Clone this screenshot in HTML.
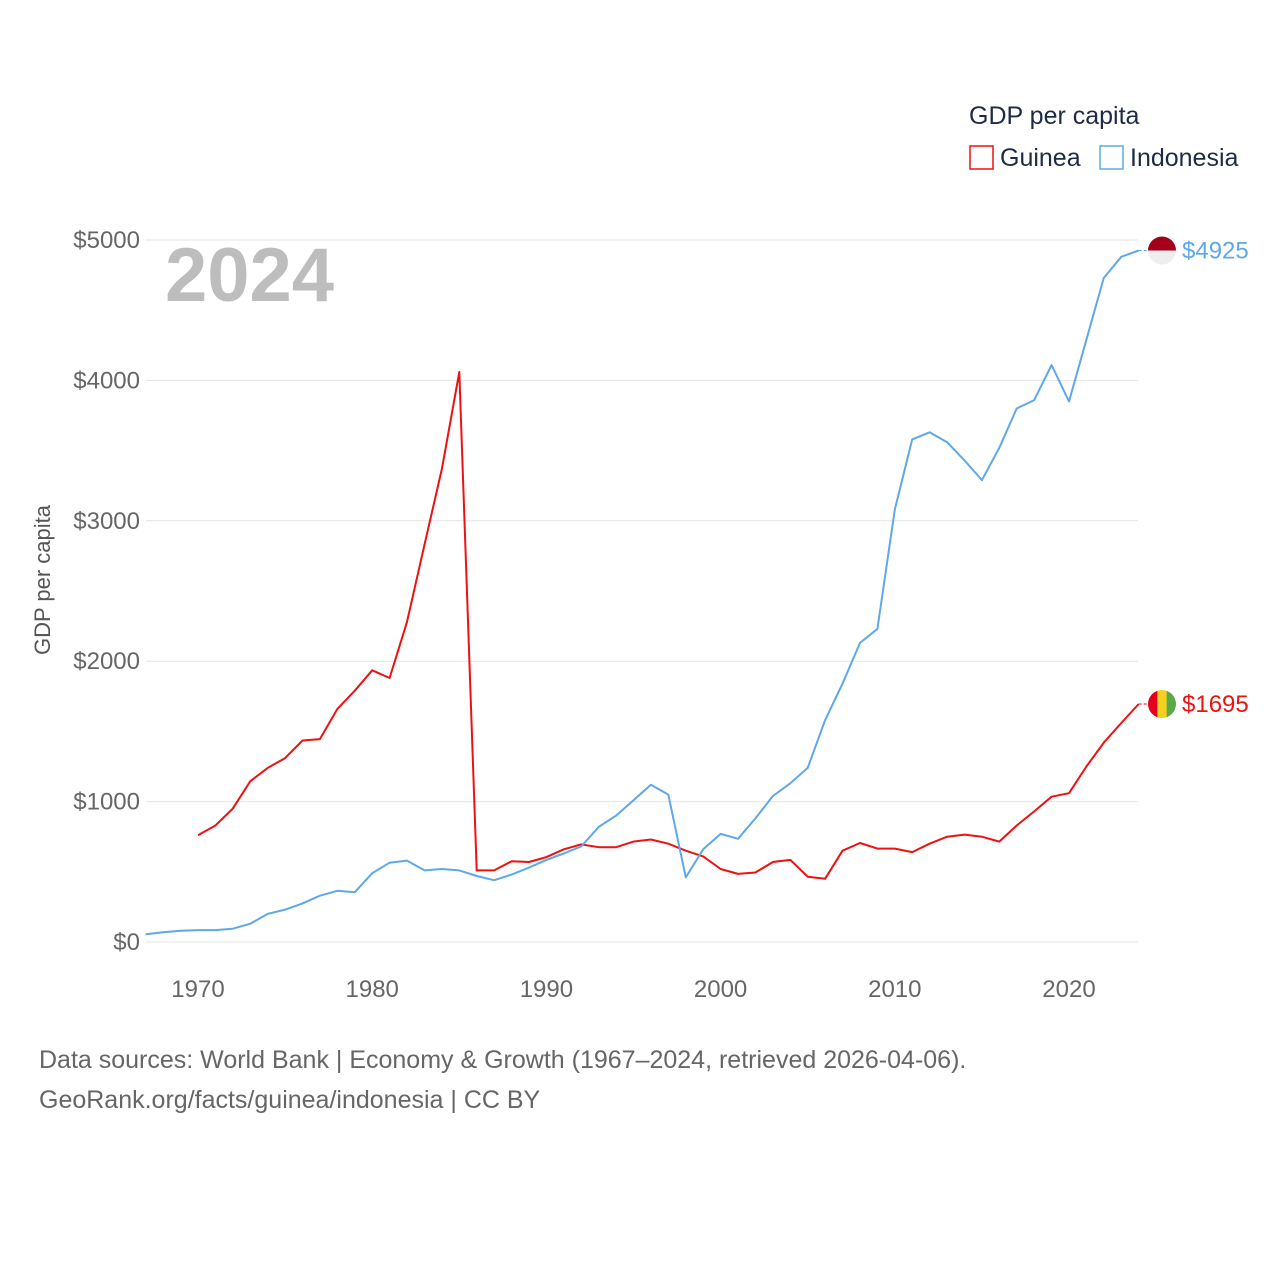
<!DOCTYPE html>
<html><head><meta charset="utf-8"><style>
body{margin:0;background:#fff;font-family:"Liberation Sans",sans-serif}
svg{display:block}
</style></head><body>
<svg id="chart" width="1280" height="1280">
<text x="969" y="124" font-size="25" fill="#1d2b45">GDP per capita</text>
<rect x="970" y="146" width="23" height="23" fill="none" stroke="#ee1111" stroke-width="1.5"/>
<text x="1000" y="166" font-size="25" fill="#1d2b45">Guinea</text>
<rect x="1100" y="146" width="23" height="23" fill="none" stroke="#5ea8ea" stroke-width="1.5"/>
<text x="1130" y="166" font-size="25" fill="#1d2b45">Indonesia</text>
<text x="165" y="301" font-size="76" font-weight="bold" fill="#bdbdbd">2024</text>
<text transform="translate(50,580) rotate(-90)" text-anchor="middle" font-size="22" fill="#555">GDP per capita</text>
<g id="grid"></g><g id="series"></g>
<text x="39" y="1068" font-size="25" fill="#666">Data sources: World Bank | Economy &amp; Growth (1967–2024, retrieved 2026-04-06).</text>
<text x="39" y="1108" font-size="25" fill="#666">GeoRank.org/facts/guinea/indonesia | CC BY</text>
</svg>
<script>
const yTicks=[0,1000,2000,3000,4000,5000];
const xTicks=[1970,1980,1990,2000,2010,2020];
const indoStart=1967;
const indoValues=[55,70,80,85,85,95,130,200,230,275,330,365,355,490,565,580,510,520,510,470,440,480,530,585,630,680,820,900,1010,1120,1050,460,660,770,735,880,1040,1130,1240,1580,1840,2130,2230,3080,3580,3630,3560,3430,3290,3520,3800,3860,4110,3850,4290,4730,4880,4925];
const guineaStart=1970;
const guineaValues=[760,830,950,1145,1240,1310,1435,1445,1660,1790,1935,1880,2280,2830,3370,4060,510,510,575,570,605,660,695,675,675,715,730,700,650,610,520,485,495,570,585,465,450,650,705,665,665,640,700,750,765,750,715,830,930,1035,1060,1250,1420,1560,1695];
const NS='http://www.w3.org/2000/svg';
const X=y=>198+(y-1970)*(1069-198)/50;
const Y=v=>942-v*(942-240)/5000;
function mk(t,a,p){const e=document.createElementNS(NS,t);for(const k in a)e.setAttribute(k,a[k]);p.appendChild(e);return e;}
const g=document.getElementById('grid');
yTicks.forEach(v=>{
 const l=mk('line',{x1:146,x2:1138,y1:Y(v),y2:Y(v),stroke:'#e4e4e4','stroke-width':1},g);
 
 
 const t=mk('text',{x:140,y:Y(v)+8,'text-anchor':'end','font-size':24,fill:'#666'},g);
 t.textContent='$'+v;
 
 
});
xTicks.forEach(y=>{
 const t=mk('text',{x:X(y),y:997,'text-anchor':'middle','font-size':24,fill:'#666'},g);
 t.textContent=y;
 
 
});
const s=document.getElementById('series');
function line(start,vals,color,name){
 const d=vals.map((v,i)=>(i?'L':'M')+X(start+i).toFixed(1)+','+Y(v).toFixed(1)).join('');
 const p=mk('path',{d:d,fill:'none',stroke:color,'stroke-width':2,'stroke-linejoin':'round'},s);
 
 
 const last=vals[vals.length-1],ly=Y(last),lx=X(start+vals.length-1);
 const c=mk('line',{x1:lx,x2:1150,y1:ly,y2:ly,stroke:color,'stroke-width':1,'stroke-dasharray':'3,2'},s);
 
 
 const t=mk('text',{x:1182,y:ly+8,'font-size':24,fill:color},s);
 t.textContent='$'+last;
 
 
 return {lx,ly};
}
const gi=line(guineaStart,guineaValues,'#ee1111','guinea');
const ii=line(indoStart,indoValues,'#5ea8ea','indonesia');
const cx=1162;
const fi=mk('g',{},s);


mk('clipPath',{id:'ci'},fi).appendChild(document.createElementNS(NS,'circle'));
const c1=fi.querySelector('#ci circle');c1.setAttribute('cx',cx);c1.setAttribute('cy',ii.ly);c1.setAttribute('r',14);
mk('rect',{x:cx-14,y:ii.ly-14,width:28,height:14,fill:'#a3001c','clip-path':'url(#ci)'},fi);
mk('rect',{x:cx-14,y:ii.ly,width:28,height:14,fill:'#eeeeee','clip-path':'url(#ci)'},fi);
const fg=mk('g',{},s);


mk('clipPath',{id:'cg'},fg).appendChild(document.createElementNS(NS,'circle'));
const c2=fg.querySelector('#cg circle');c2.setAttribute('cx',cx);c2.setAttribute('cy',gi.ly);c2.setAttribute('r',14);
['#e4001b','#f5d020','#5aa84a'].forEach((c,i)=>mk('rect',{x:cx-14+i*28/3,y:gi.ly-14,width:28/3+0.5,height:28,fill:c,'clip-path':'url(#cg)'},fg));
</script>
</body></html>
